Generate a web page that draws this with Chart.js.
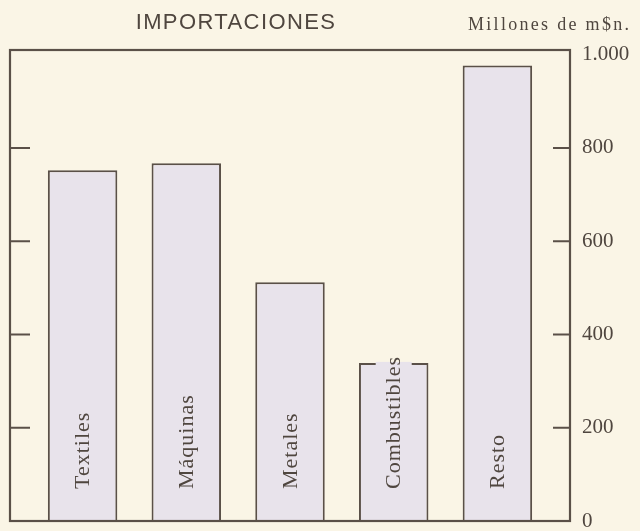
<!DOCTYPE html>
<html>
<head>
<meta charset="utf-8">
<script src="https://cdn.jsdelivr.net/npm/chart.js@4"></script>
<style>
  html, body { margin: 0; padding: 0; background: #faf5e6; }
  #wrap { width: 640px; height: 531px; position: relative; }
</style>
</head>
<body>
<div id="wrap"><canvas id="grafica"></canvas></div>
<script>
/* Datos del gráfico */
const categorias = ['Textiles', 'Máquinas', 'Metales', 'Combustibles', 'Resto'];
const valores = [752, 767, 512, 339, 977]; // millones de m$n.
const valoresTicks = [0, 200, 400, 600, 800, 1000];
const etiquetasTicks = ['0', '200', '400', '600', '800', '1.000'];

const titulo = 'IMPORTACIONES';
const unidad = 'Millones de m$n.';

const colorFondo = '#faf5e6';
const colorLinea = '#5a5048';
const colorBarra = '#e8e3eb';
const colorTexto = '#4f463f';

// Marco, marcas interiores, títulos y rótulos verticales
const decoracion = {
    id: 'decoracion',
    beforeDraw(chart) {
        const ctx = chart.ctx;
        ctx.save();
        ctx.fillStyle = colorFondo;
        ctx.fillRect(0, 0, chart.width, chart.height);
        ctx.restore();
    },
    afterDatasetsDraw(chart) {
        const ctx = chart.ctx;
        const a = chart.chartArea;
        const y = chart.scales.y;
        ctx.save();

        // marco
        ctx.strokeStyle = colorLinea;
        ctx.lineWidth = 2.2;
        ctx.strokeRect(a.left, a.top, a.right - a.left, a.bottom - a.top);

        // marcas de escala en ambos lados (hacia adentro)
        ctx.lineWidth = 2;
        valoresTicks.forEach(v => {
            if (v === 0 || v === 1000) return;
            const py = y.getPixelForValue(v);
            ctx.beginPath();
            ctx.moveTo(a.left, py); ctx.lineTo(a.left + 20, py);
            ctx.moveTo(a.right - 17, py); ctx.lineTo(a.right, py);
            ctx.stroke();
        });

        // rótulos verticales dentro de las barras
        const meta = chart.getDatasetMeta(0);
        ctx.font = '22px "Liberation Serif", serif';
        ctx.letterSpacing = '1px';
        meta.data.forEach((bar, i) => {
            const texto = categorias[i];
            const w = ctx.measureText(texto).width;
            const yBase = a.bottom - 32;
            const yTop = yBase - w;
            // hueco en el borde superior si el texto lo atraviesa
            if (yTop < bar.y + 4) {
                ctx.fillStyle = colorFondo;
                ctx.fillRect(bar.x - 18, yTop - 2, 36, bar.y - yTop + 1);
                ctx.fillStyle = colorBarra;
                ctx.fillRect(bar.x - 18, bar.y - 1, 36, 4);
            }
            ctx.save();
            ctx.translate(bar.x, yBase);
            ctx.rotate(-Math.PI / 2);
            ctx.fillStyle = colorTexto;
            ctx.textAlign = 'left';
            ctx.textBaseline = 'middle';
            ctx.fillText(texto, 0, 1);
            ctx.restore();
        });

        // títulos superiores
        ctx.fillStyle = colorTexto;
        ctx.textBaseline = 'middle';
        ctx.textAlign = 'center';
        ctx.font = '22px "Liberation Sans", sans-serif';
        ctx.letterSpacing = '1.4px';
        ctx.fillText(titulo, 236, 23);
        ctx.textAlign = 'left';
        ctx.font = '18px "Liberation Serif", serif';
        ctx.letterSpacing = '2.3px';
        ctx.fillText(unidad, 468, 25);

        ctx.restore();
    }
};

new Chart(document.getElementById('grafica'), {
    type: 'bar',
    data: {
        datasets: [{
            data: valores.map((v, i) => ({ x: i, y: v })),
            backgroundColor: colorBarra,
            borderColor: colorLinea,
            borderWidth: 2,
            borderSkipped: 'bottom',
            barPercentage: 0.67,
            categoryPercentage: 1
        }]
    },
    options: {
        responsive: true,
        maintainAspectRatio: false,
        animation: false,
        layout: { padding: { left: 10, top: 50, bottom: 10, right: 0 } },
        plugins: {
            legend: { display: false },
            title: { display: false },
            tooltip: { enabled: false }
        },
        scales: {
            x: {
                type: 'linear',
                display: false,
                offset: false,
                min: -0.7,
                max: 4.7,
                afterBuildTicks(scale) {
                    scale.ticks = categorias.map((c, i) => ({ value: i }));
                }
            },
            y: {
                position: 'right',
                min: 0,
                max: 1010,
                afterBuildTicks(scale) {
                    scale.ticks = valoresTicks.map(v => ({ value: v }));
                },
                afterFit(scale) {
                    scale.width = 70;
                    scale.paddingTop = 0;
                    scale.paddingBottom = 0;
                },
                border: { display: false },
                grid: { display: false, drawTicks: false },
                ticks: {
                    padding: 12,
                    color: colorTexto,
                    font: { family: '"Liberation Serif", serif', size: 21 },
                    callback: (v) => etiquetasTicks[valoresTicks.indexOf(v)]
                }
            }
        }
    },
    plugins: [decoracion]
});
</script>
</body>
</html>
